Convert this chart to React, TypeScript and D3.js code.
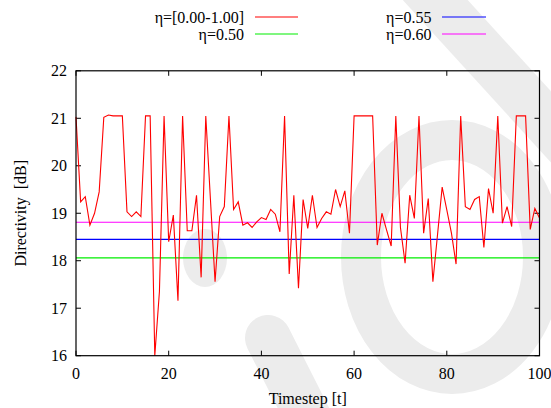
import React from "react";
import * as d3 from "d3";

const timesteps: number[] = d3.range(0, 101);
const directivity: number[] = [
  21.03, 19.24, 19.35, 18.75, 19.0, 19.45, 21.02, 21.07, 21.05, 21.05,
  21.05, 19.03, 18.93, 19.03, 18.93, 21.05, 21.05, 16.0, 17.35, 21.05,
  18.4, 18.96, 17.16, 21.05, 18.63, 18.63, 19.38, 17.65, 21.05, 19.3,
  17.56, 18.93, 19.14, 21.05, 19.08, 19.24, 18.75, 18.8, 18.7, 18.82,
  18.91, 18.87, 19.08, 18.98, 18.61, 21.05, 17.72, 19.38, 17.42, 19.29,
  18.68, 19.38, 18.7, 18.89, 19.03, 18.98, 19.5, 19.14, 19.47, 18.58,
  21.05, 21.05, 21.05, 21.05, 21.05, 18.33, 19.0, 18.65, 18.31, 21.05,
  18.7, 17.95, 19.38, 18.89, 21.05, 18.58, 19.31, 17.56, 18.55, 19.55,
  19.07, 18.58, 17.93, 21.05, 19.14, 19.08, 19.29, 19.35, 18.28, 19.52,
  19.0, 21.05, 18.79, 19.14, 18.72, 21.05, 21.05, 21.05, 18.66, 19.1,
  18.9,
];
const constLabels: string[] = ["η=0.50", "η=0.55", "η=0.60"];
const constValues: number[] = [18.06, 18.45, 18.81];
const constColors: string[] = ["#00ee00", "#0000ff", "#ff00ff"];
const xTicks: number[] = [0, 20, 40, 60, 80, 100];
const yTicks: number[] = [16, 17, 18, 19, 20, 21, 22];

const W = 551;
const H = 408;
const M = { left: 76, right: 539.5, top: 70.8, bottom: 355.7 };
const WM = "#ececec";

export default function App() {
  const x = d3.scaleLinear().domain([0, 100]).range([M.left, M.right]);
  const y = d3.scaleLinear().domain([16, 22]).range([M.bottom, M.top]);
  const line = d3
    .line<number>()
    .x((_, i) => x(timesteps[i]))
    .y((d) => y(d));
  const tl = 5;
  const FF = "Liberation Serif";

  return (
    <svg
      width={W}
      height={H}
      style={{ display: "block", position: "absolute", left: 0, top: 0, background: "#fff" }}
      fontFamily={FF}
      fontSize={16}
    >
      <rect width={W} height={H} fill="#fff" />
      {/* watermark */}
      <g>
        <ellipse cx={452} cy={257} rx={91} ry={117} fill="none" stroke={WM} strokeWidth={40} />
        <line x1={417} y1={-20} x2={572} y2={150} stroke={WM} strokeWidth={48} />
        <line x1={268} y1={338} x2={312} y2={425} stroke={WM} strokeWidth={46} strokeLinecap="round" />
        <ellipse cx={205} cy={258} rx={22} ry={29} fill={WM} />
      </g>

      {/* ticks */}
      <g stroke="#000" strokeWidth={1}>
        {xTicks.map((t) => (
          <g key={"xt" + t}>
            <line x1={x(t)} x2={x(t)} y1={M.bottom} y2={M.bottom - tl} />
            <line x1={x(t)} x2={x(t)} y1={M.top} y2={M.top + tl} />
          </g>
        ))}
        {yTicks.map((t) => (
          <g key={"yt" + t}>
            <line x1={M.left} x2={M.left + tl} y1={y(t)} y2={y(t)} />
            <line x1={M.right} x2={M.right - tl} y1={y(t)} y2={y(t)} />
          </g>
        ))}
      </g>

      {/* constant lines */}
      {constValues.map((v, i) => (
        <line
          key={"c" + i}
          x1={M.left}
          x2={M.right}
          y1={y(v)}
          y2={y(v)}
          stroke={constColors[i]}
          strokeWidth={1.2}
        />
      ))}

      {/* series */}
      <path d={line(directivity) || ""} fill="none" stroke="#ff0000" strokeWidth={1.1} strokeLinejoin="miter" />

      {/* frame */}
      <rect
        x={M.left}
        y={M.top}
        width={M.right - M.left}
        height={M.bottom - M.top}
        fill="none"
        stroke="#000"
        strokeWidth={1.2}
      />

      {/* tick labels */}
      {xTicks.map((t) => (
        <text key={"xl" + t} x={x(t)} y={378.5} textAnchor="middle" fontFamily={FF}>
          {t}
        </text>
      ))}
      {yTicks.map((t) => (
        <text key={"yl" + t} x={67} y={y(t) + 5.5} textAnchor="end" fontFamily={FF}>
          {t}
        </text>
      ))}
      <text x={(M.left + M.right) / 2} y={404} textAnchor="middle" fontFamily={FF}>
        Timestep [t]
      </text>
      <text
        transform={`translate(26, ${(M.top + M.bottom) / 2}) rotate(-90)`}
        textAnchor="middle"
        fontFamily={FF}
        xmlSpace="preserve"
        style={{ whiteSpace: "pre" }}
      >
        {"Directivity  [dB]"}
      </text>

      {/* legend */}
      <text x={244} y={22.5} textAnchor="end" fontFamily={FF}>η=[0.00-1.00]</text>
      <line x1={255} x2={298} y1={17} y2={17} stroke="#ff0000" strokeWidth={1.2} />
      <text x={244} y={39.5} textAnchor="end" fontFamily={FF}>{constLabels[0]}</text>
      <line x1={255} x2={298} y1={34} y2={34} stroke={constColors[0]} strokeWidth={1.2} />
      <text x={431.5} y={22.5} textAnchor="end" fontFamily={FF}>{constLabels[1]}</text>
      <line x1={442} x2={486} y1={17} y2={17} stroke={constColors[1]} strokeWidth={1.2} />
      <text x={431.5} y={39.5} textAnchor="end" fontFamily={FF}>{constLabels[2]}</text>
      <line x1={442} x2={486} y1={34} y2={34} stroke={constColors[2]} strokeWidth={1.2} />
    </svg>
  );
}
